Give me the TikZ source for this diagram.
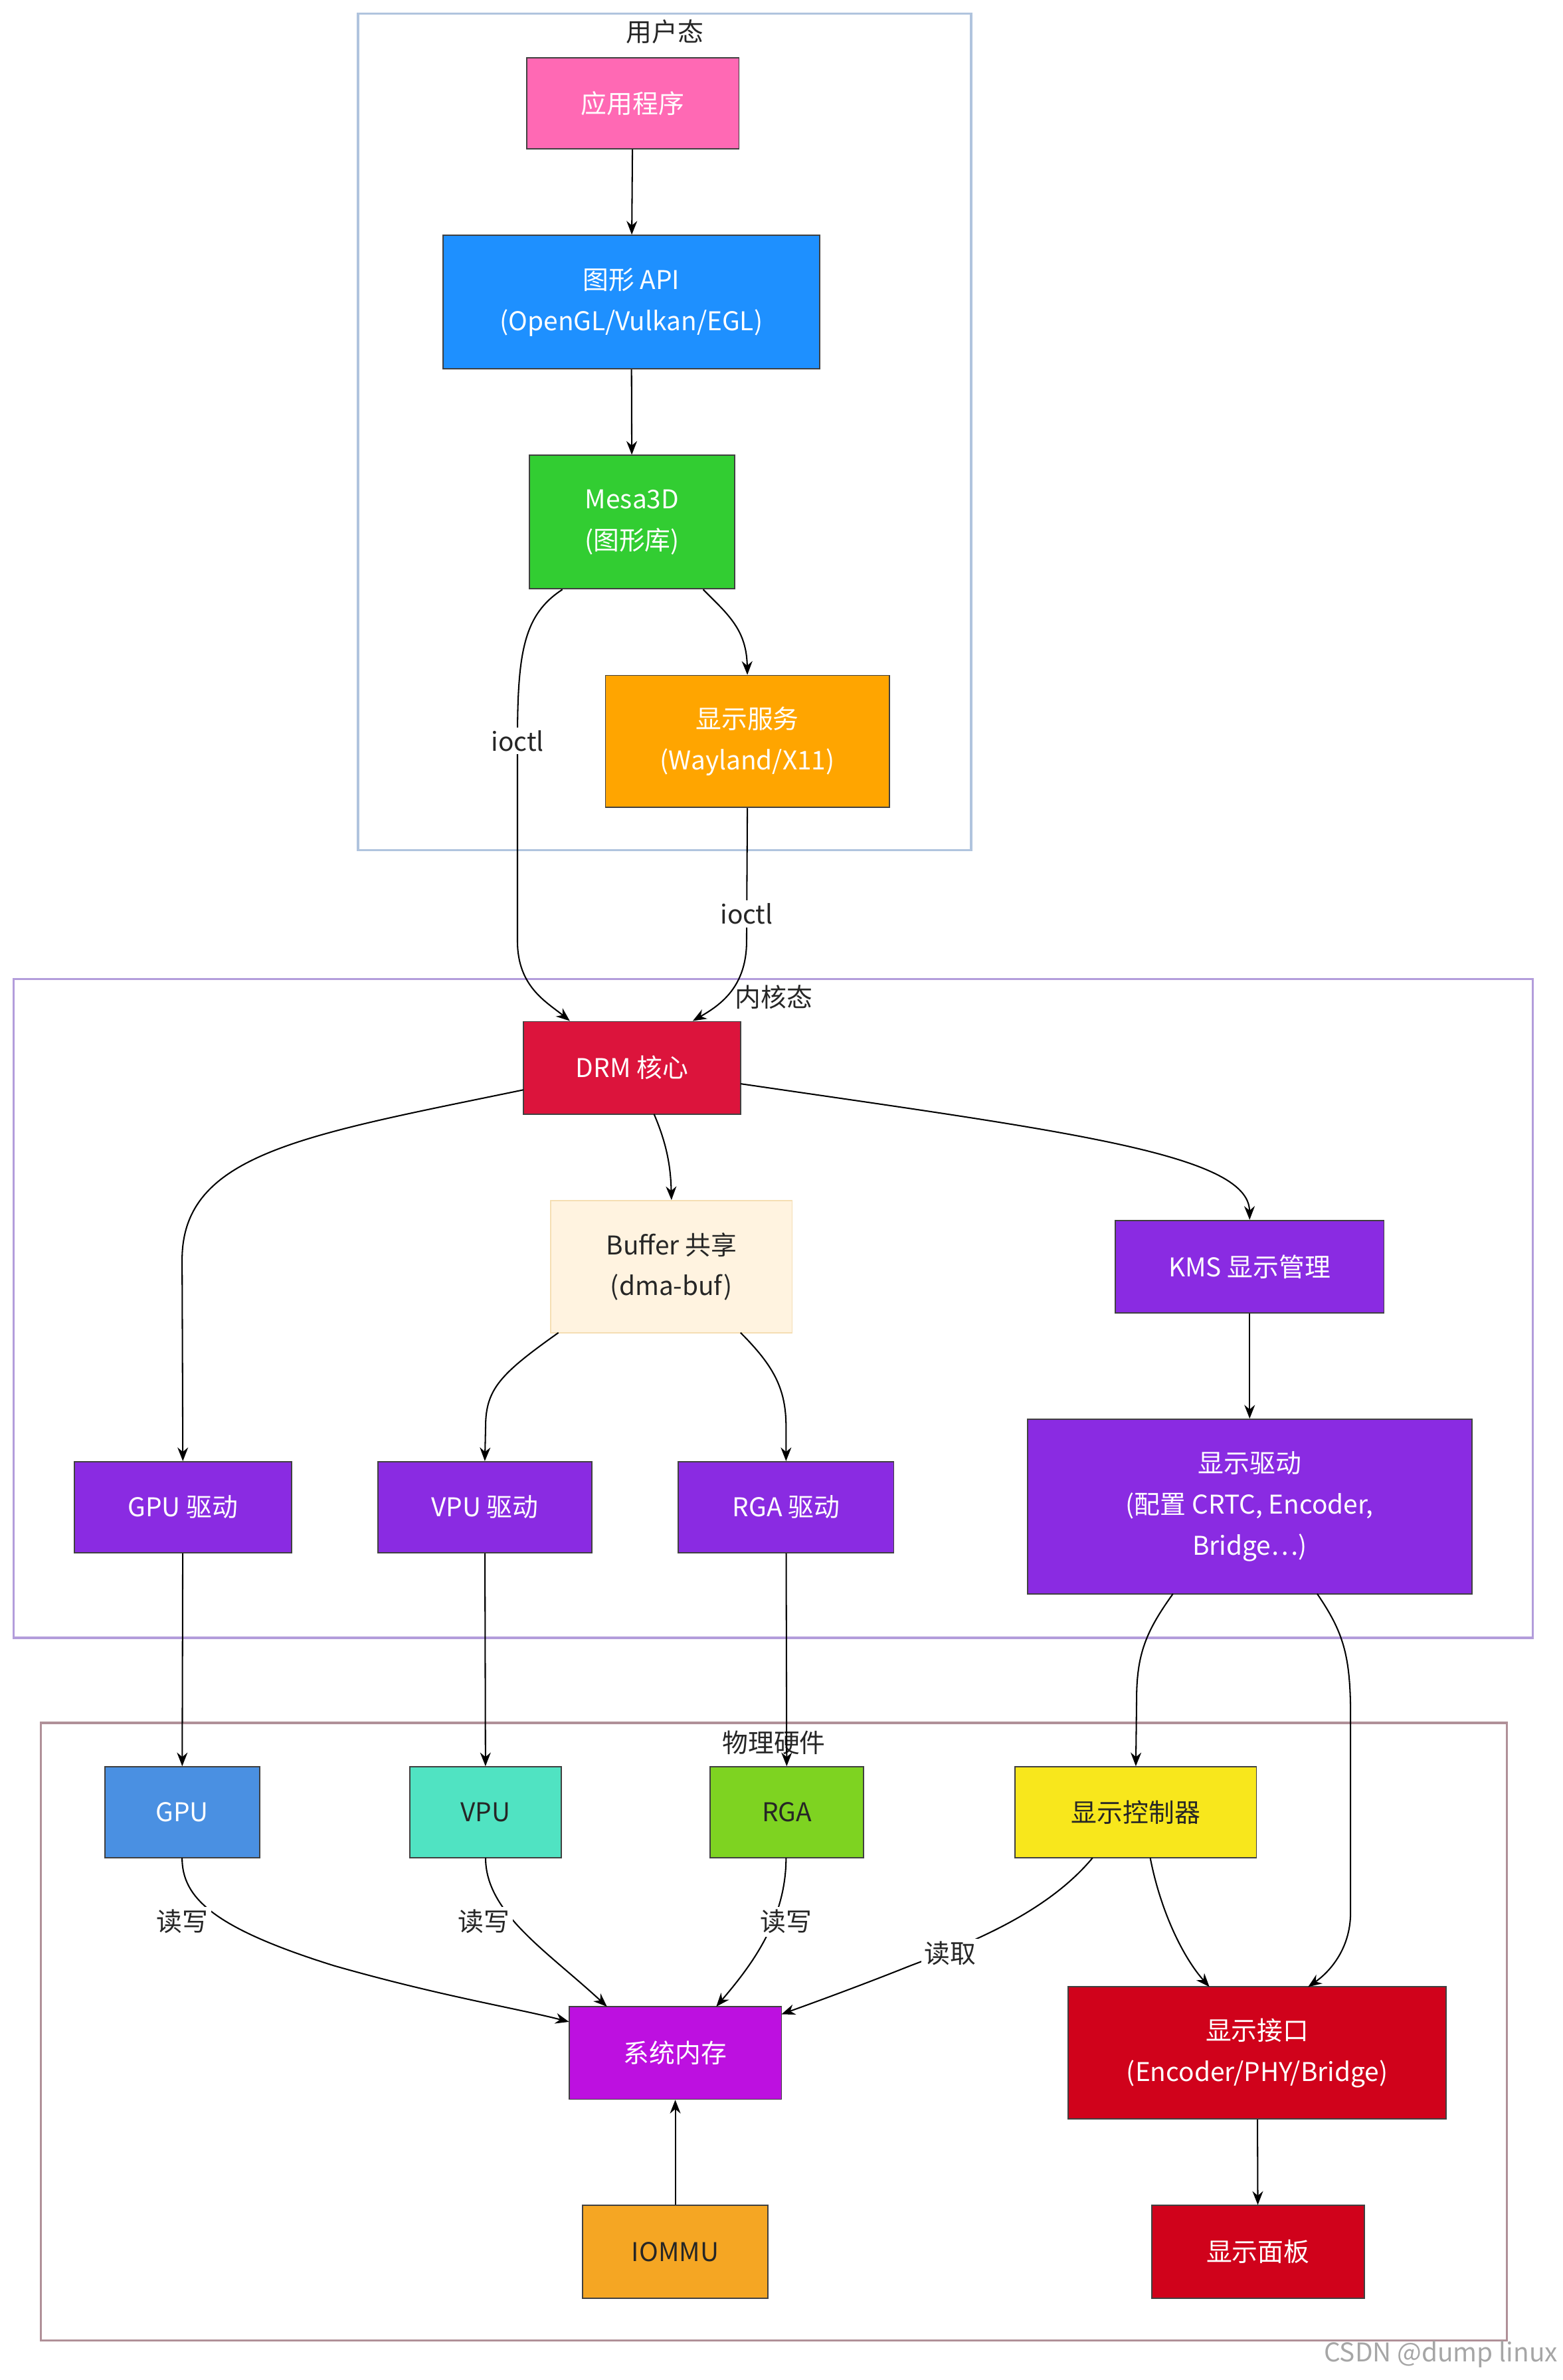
\documentclass[tikz,border=0pt]{standalone}
\usepackage{fontspec}
\setmainfont{Noto Sans CJK SC}
\usetikzlibrary{arrows.meta}
\begin{document}
\begin{tikzpicture}[x=1pt,y=-1pt,
  bx/.style={draw=black!75,line width=0.8pt,text=white,align=center,inner sep=0pt,font=\fontsize{17}{27}\selectfont},
  dk/.style={text=black!85},
  grp/.style={line width=1.5pt},
  glabel/.style={font=\fontsize{17}{20}\selectfont,text=black!85,inner sep=1pt},
  ar/.style={-{Stealth[length=9pt,width=7pt]},line width=0.9pt,black},
  lb/.style={fill=white,font=\fontsize{17}{20}\selectfont,text=black!85,inner sep=2pt}]
\useasboundingbox (0,0) rectangle (1030,1568);
\definecolor{cU}{HTML}{B0C4DE}\definecolor{cK}{HTML}{B39DDB}\definecolor{cH}{HTML}{B09098}
\draw[grp,cU] (236,9) rectangle (640,560);
\node[glabel] (gu) at (438,21) {用户态};
\draw[grp,cK] (9,645) rectangle (1010,1079);
\node[glabel] (gk) at (510,657) {内核态};
\draw[grp,cH] (27,1135) rectangle (993,1542);
\node[glabel] (gh) at (510,1148) {物理硬件};
% user
\node[bx,fill={rgb,255:red,255;green,105;blue,180},minimum width=140,minimum height=60] (app) at (417,68) {应用程序};
\node[bx,fill={rgb,255:red,30;green,144;blue,255},minimum width=248,minimum height=88] (api) at (416,199) {图形 API\\(OpenGL/Vulkan/EGL)};
\node[bx,fill={rgb,255:red,50;green,205;blue,50},minimum width=135,minimum height=88] (mesa) at (416.5,344) {Mesa3D\\(图形库)};
\node[bx,fill={rgb,255:red,255;green,165;blue,0},minimum width=187,minimum height=87] (ds) at (492.5,488.5) {显示服务\\(Wayland/X11)};
% kernel
\node[bx,fill={rgb,255:red,220;green,20;blue,60},minimum width=143,minimum height=61] (drm) at (416.5,703.5) {DRM 核心};
\node[bx,dk,draw={rgb,255:red,245;green,222;blue,179},fill={rgb,255:red,255;green,243;blue,224},minimum width=159,minimum height=87] (buf) at (442.5,834.5) {Buffer 共享\\(dma-buf)};
\node[bx,fill={rgb,255:red,138;green,43;blue,226},minimum width=177,minimum height=61] (kms) at (823.5,834.5) {KMS 显示管理};
\node[bx,fill={rgb,255:red,138;green,43;blue,226},minimum width=143,minimum height=60] (gpud) at (120.5,993) {GPU 驱动};
\node[bx,fill={rgb,255:red,138;green,43;blue,226},minimum width=141,minimum height=60] (vpud) at (319.5,993) {VPU 驱动};
\node[bx,fill={rgb,255:red,138;green,43;blue,226},minimum width=142,minimum height=60] (rgad) at (518,993) {RGA 驱动};
\node[bx,fill={rgb,255:red,138;green,43;blue,226},minimum width=293,minimum height=115] (dispd) at (823.5,992.5) {显示驱动\\(配置 CRTC, Encoder,\\Bridge…)};
% hardware
\node[bx,fill={rgb,255:red,74;green,144;blue,226},minimum width=102,minimum height=60] (gpu) at (120,1194) {GPU};
\node[bx,dk,fill={rgb,255:red,80;green,227;blue,194},minimum width=100,minimum height=60] (vpu) at (320,1194) {VPU};
\node[bx,dk,fill={rgb,255:red,126;green,211;blue,33},minimum width=101,minimum height=60] (rga) at (518.5,1194) {RGA};
\node[bx,dk,fill={rgb,255:red,248;green,231;blue,28},minimum width=159,minimum height=60] (dc) at (748.5,1194) {显示控制器};
\node[bx,fill={rgb,255:red,189;green,16;blue,224},minimum width=140,minimum height=61] (mem) at (445,1352.5) {系统内存};
\node[bx,fill={rgb,255:red,208;green,2;blue,27},minimum width=249,minimum height=87] (dif) at (828.5,1352.5) {显示接口\\(Encoder/PHY/Bridge)};
\node[bx,dk,fill={rgb,255:red,245;green,166;blue,35},minimum width=122,minimum height=61] (iommu) at (445,1483.5) {IOMMU};
\node[bx,fill={rgb,255:red,208;green,2;blue,27},minimum width=140,minimum height=61] (panel) at (829,1483.5) {显示面板};
% edges
\draw[ar] (app) -- (api);
\draw[ar] (api) -- (mesa);
\draw[ar] (mesa.south east)++(-21,0) .. controls (480,405) and (492,415) .. (ds.north);
\draw[ar] (mesa.south west)++(22,0) .. controls (345,405) and (341,430) .. (341,488) -- (341,620) .. controls (341,650) and (360,660) .. ([xshift=-41]drm.north);
\node[lb] (l1) at (341,488) {ioctl};
\draw[ar] (ds.south) -- (492,620) .. controls (492,650) and (475,662) .. ([xshift=40]drm.north);
\node[lb] (l2) at (492,602) {ioctl};
\draw[ar] (345,718) .. controls (200,748) and (120,760) .. (120,830) -- (gpud.north);
\draw[ar] (431,734) .. controls (440,755) and (442,770) .. (buf.north);
\draw[ar] (488,714) .. controls (700,745) and (823,760) .. (kms.north);
\draw[ar] (368,878) .. controls (330,905) and (320,915) .. (320,940) -- (vpud.north);
\draw[ar] (488,878) .. controls (510,900) and (518,915) .. (518,940) -- (rgad.north);
\draw[ar] (kms) -- (dispd);
\draw[ar] (gpud) -- (gpu);
\draw[ar] (vpud) -- (vpu);
\draw[ar] (rgad) -- (rga);
\draw[ar] (773,1050) .. controls (755,1075) and (749,1090) .. (749,1120) -- (dc.north);
\draw[ar] (868,1050) .. controls (885,1075) and (890,1090) .. (890,1130) -- (890,1260) .. controls (890,1285) and (875,1300) .. (862,1309);
\draw[ar] (758,1224) .. controls (765,1260) and (780,1290) .. (797,1309);
\draw[ar] (120,1224) .. controls (120,1250) and (140,1270) .. (220,1295) .. controls (290,1315) and (340,1323) .. (375,1332);
\node[lb] (l3) at (120,1266) {读写};
\draw[ar] (320,1224) .. controls (320,1260) and (360,1285) .. (400,1322);
\node[lb] (l4) at (319,1266) {读写};
\draw[ar] (518,1224) .. controls (518,1265) and (495,1295) .. (472,1322);
\node[lb] (l5) at (518,1266) {读写};
\draw[ar] (720,1224) .. controls (690,1260) and (640,1280) .. (600,1295) .. controls (570,1307) and (540,1318) .. (515,1327);
\node[lb] (l6) at (626,1287) {读取};
\draw[ar,{Stealth[length=9pt,width=7pt]}-] (mem) -- (iommu);
\draw[ar] (dif) -- (panel);
\node[text=black!35,font=\fontsize{17}{20}\selectfont,anchor=east] (wm) at (1030,1551) {CSDN @dump linux};
\end{tikzpicture}
\end{document}
